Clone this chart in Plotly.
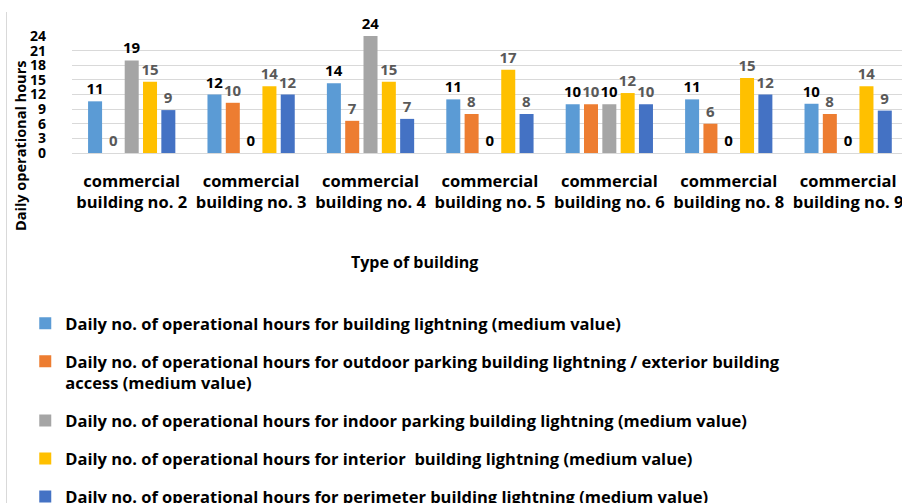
import plotly.graph_objects as go

categories = [
    "commercial<br>building no. 2",
    "commercial<br>building no. 3",
    "commercial<br>building no. 4",
    "commercial<br>building no. 5",
    "commercial<br>building no. 6",
    "commercial<br>building no. 8",
    "commercial<br>building no. 9",
]

series_names = [
    "Daily no. of operational hours for building lightning (medium value)",
    "Daily no. of operational hours for outdoor parking building lightning / exterior building<br>access (medium value)",
    "Daily no. of operational hours for indoor parking building lightning (medium value)",
    "Daily no. of operational hours for interior  building lightning (medium value)",
    "Daily no. of operational hours for perimeter building lightning (medium value)",
]

building_lighting = [10.6, 12.0, 14.3, 11.0, 10.0, 11.0, 10.1]
outdoor_parking = [0, 10.3, 6.6, 8.0, 10.0, 6.0, 8.0]
indoor_parking = [19.0, 0, 24.0, 0, 10.0, 0, 0]
interior = [14.6, 13.7, 14.6, 17.1, 12.3, 15.4, 13.7]
perimeter = [8.8, 12.0, 7.0, 8.0, 10.0, 12.0, 8.7]

y_tick_vals = [0, 3, 6, 9, 12, 15, 18, 21, 24]
y_tick_text = ["0", "3", "6", "9", "12", "15", "18", "21", "24"]

series_values = [building_lighting, outdoor_parking, indoor_parking, interior, perimeter]
colors = ["#5B9BD5", "#ED7D31", "#A5A5A5", "#FFC000", "#4472C4"]
label_colors = ["#000000", "#595959", "#000000", "#595959", "#595959"]

FONT = "Open Sans"

fig = go.Figure()
for i, (name, vals) in enumerate(zip(series_names, series_values)):
    fig.add_trace(go.Bar(
        x=categories,
        y=vals,
        name=name,
        legendgroup=f"g{i}",
        marker=dict(color=colors[i], line=dict(width=0)),
        texttemplate="%{y:.0f}",
        textposition="outside",
        constraintext="none",
        cliponaxis=False,
        textfont=dict(family=FONT, size=15, color=label_colors[i], weight="bold"),
        hoverinfo="skip",
    ))

fig.update_layout(
    width=902,
    height=503,
    margin=dict(l=72, r=0, t=36, b=350, autoexpand=False),
    paper_bgcolor="white",
    plot_bgcolor="white",
    barmode="group",
    bargap=0.233,
    bargroupgap=0.235,
    font=dict(family=FONT, size=16, color="#000000"),
    showlegend=True,
    legend=dict(
        xref="container", yref="container",
        x=0.028, y=1 - 306 / 503,
        xanchor="left", yanchor="top",
        traceorder="grouped",
        tracegroupgap=13.5,
        valign="top",
        bgcolor="rgba(0,0,0,0)",
        font=dict(family=FONT, size=16.5, color="#000000", weight="bold"),
    ),
    xaxis=dict(
        type="category",
        range=[-0.5, 6.451],
        showgrid=False,
        showline=False,
        ticks="",
        tickangle=0,
        tickfont=dict(family=FONT, size=16.5, color="#000000", weight="bold"),
        ticklabelstandoff=16,
    ),
    yaxis=dict(
        range=[0, 24],
        tickmode="array",
        tickvals=y_tick_vals,
        ticktext=y_tick_text,
        showgrid=True,
        gridcolor="#D9D9D9",
        gridwidth=1,
        zeroline=True,
        zerolinecolor="#D9D9D9",
        zerolinewidth=1,
        showline=False,
        ticks="",
        tickfont=dict(family=FONT, size=14, color="#000000", weight="bold"),
        ticklabelstandoff=25,
    ),
    annotations=[
        dict(
            text="Daily operational hours",
            xref="paper", yref="paper",
            x=(20 - 72) / 830, y=(153 - 146) / 117,
            xanchor="center", yanchor="middle",
            textangle=-90, showarrow=False,
            font=dict(family=FONT, size=14.5, color="#000000", weight="bold"),
        ),
        dict(
            text="Type of building",
            xref="paper", yref="paper",
            x=(414 - 72) / 830, y=(153 - 262) / 117,
            xanchor="center", yanchor="middle",
            showarrow=False,
            font=dict(family=FONT, size=16, color="#000000", weight="bold"),
        ),
    ],
    shapes=[
        dict(
            type="line", xref="paper", yref="paper",
            x0=(6.5 - 72) / 830, x1=(6.5 - 72) / 830,
            y0=(153 - 12) / 117, y1=(153 - 503) / 117,
            line=dict(color="#D9D9D9", width=1),
        )
    ],
)

fig.write_html(
    "out.html",
    config={"displayModeBar": False},
    post_script="document.body.style.margin='0';document.body.style.overflow='hidden';",
)
